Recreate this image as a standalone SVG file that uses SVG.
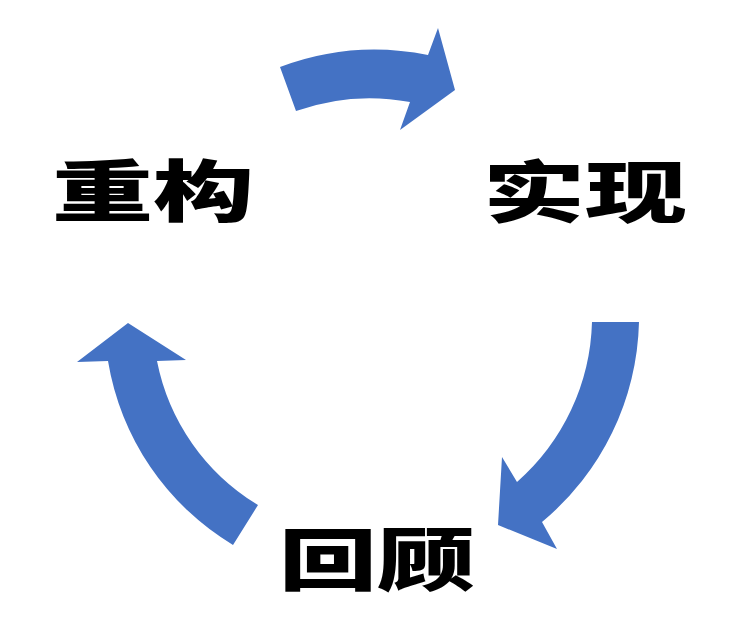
<svg xmlns="http://www.w3.org/2000/svg" width="744" height="622" viewBox="0 0 744 622">
<style>
.arrow{fill:#4472C4;stroke:none}
.lbl{font-family:"Noto Sans CJK SC","Noto Sans CJK TC",sans-serif;font-weight:900;font-size:67px;fill:#000}
</style>
<rect width="744" height="622" fill="#fff"/>
<g id="connectors">
<path class="arrow" d="M 280 67 A 268 268 0 0 1 428 55 L 438 28 L 455 90 L 400 130 L 410 102 A 221 221 0 0 0 296 111 Z"/>
<path class="arrow" d="M 639 322 A 268 268 0 0 1 542 522 L 557 549 L 498 525 L 502 457 L 517 482 A 221 221 0 0 0 592 322 Z"/>
<path class="arrow" d="M 233 545 A 265 265 0 0 1 108 361 L 77 362 L 128 323 L 186 360 L 157 361 A 217 217 0 0 0 258 505 Z"/>
</g>
<g id="node-chonggou"><text class="lbl" x="52" y="216" textLength="202" lengthAdjust="spacingAndGlyphs">重构</text></g>
<g id="node-shixian"><text class="lbl" x="483" y="217" textLength="204" lengthAdjust="spacingAndGlyphs">实现</text></g>
<g id="node-huigu"><text class="lbl" x="279" y="585" textLength="196" lengthAdjust="spacingAndGlyphs">回顾</text></g>
</svg>
